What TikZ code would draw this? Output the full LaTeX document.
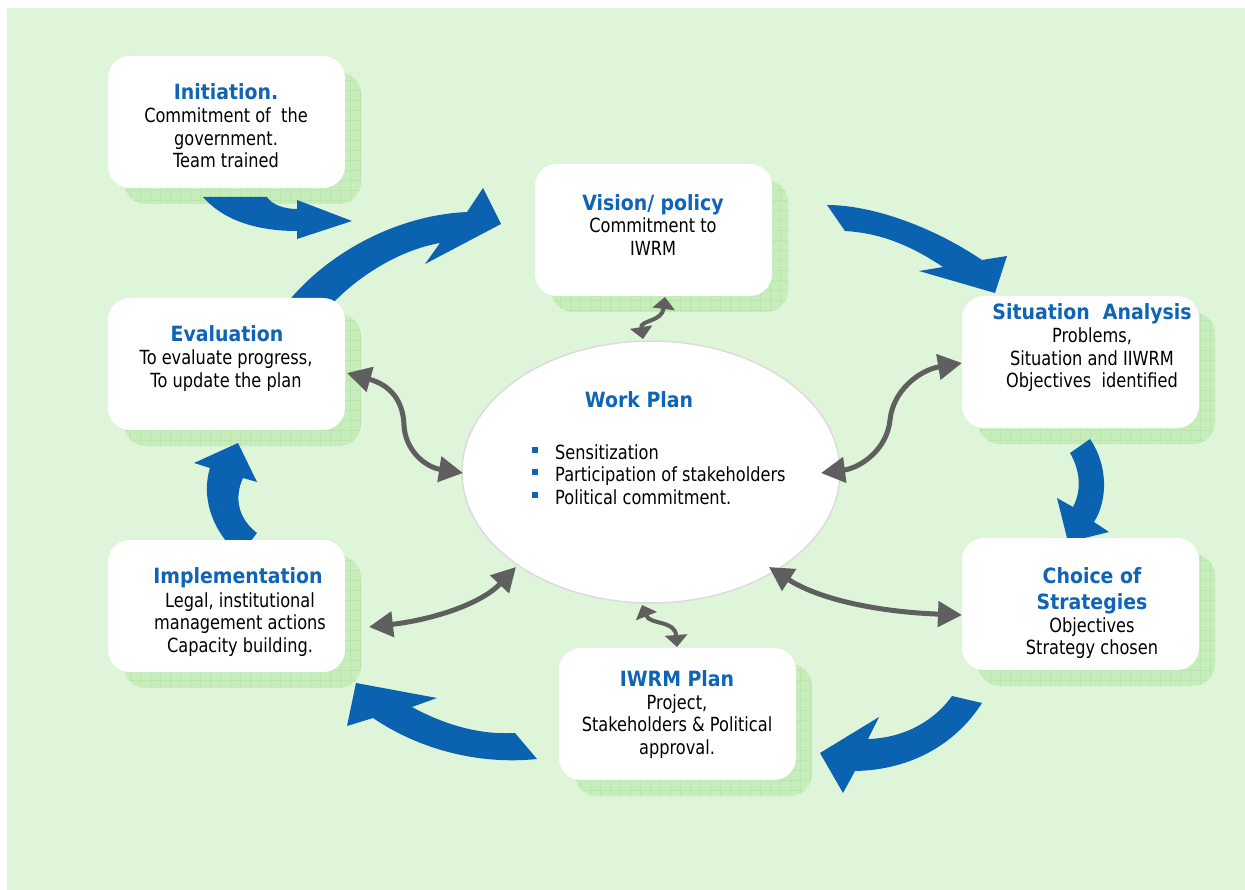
\documentclass[tikz,border=0pt]{standalone}
\usepackage{fontspec}
\setmainfont{DejaVu Sans}[FakeStretch=0.83]
\newfontfamily\ttl{DejaVu Sans}[FakeStretch=0.9]
\usetikzlibrary{shapes.geometric,arrows.meta}
\definecolor{bgfill}{HTML}{DFF5D9}
\definecolor{shadowfill}{HTML}{C6EDBB}
\definecolor{gridcol}{HTML}{BAE6AE}
\definecolor{arrblue}{HTML}{0B62B1}
\definecolor{titleblue}{HTML}{0F64B5}
\definecolor{arrgray}{HTML}{5F5F5F}
\definecolor{ellborder}{HTML}{DCDCDC}
\definecolor{txtblack}{HTML}{000000}
\tikzset{
  boxnode/.style={rectangle, rounded corners=22pt, fill=white, draw=none,
    minimum width=237pt, minimum height=132pt, inner sep=0pt},
  ttlnode/.style={font=\ttl\bfseries\fontsize{21}{26}\selectfont, text=titleblue,
    inner sep=0pt, anchor=base, align=center},
  bodynode/.style={font=\fontsize{19.5}{22.5}\selectfont, text=txtblack,
    inner sep=0pt, anchor=base, align=center},
  bluearrow/.style={fill=arrblue, draw=none},
  bigdbl/.style={draw=arrgray, line width=5pt,
    {Triangle[width=25pt,length=24pt]}-{Triangle[width=25pt,length=24pt]}},
  smalldbl/.style={draw=arrgray, line width=4pt,
    {Triangle[width=22pt,length=12pt]}-{Triangle[width=22pt,length=12pt]}},
  gridline/.style={draw=gridcol, line width=0.5pt},
  bulletsq/.style={fill=titleblue}
}
\begin{document}
\begin{tikzpicture}[x=1pt,y=-1pt]
\useasboundingbox (0,0) rectangle (1245,890);
\fill[bgfill] (7,8) rectangle (1245,890);

% shadows
\foreach \x/\y in {108/56,535/164,962/296,108/298,108/540,962/538,559/648}{
  \begin{scope}
    \clip[rounded corners=22pt] (\x+16,\y+16) rectangle (\x+253,\y+148);
    \fill[shadowfill] (\x,\y) rectangle (\x+260,\y+160);
    \draw[gridline] (\x,\y) grid[step=10pt] (\x+260,\y+160);
  \end{scope}
}

% blue cycle arrows
\fill[bluearrow] (203,197) .. controls (225,222) and (260,231) .. (297,231)
  -- (297,239) -- (352,221) -- (297,200) -- (297,209)
  .. controls (285,209) and (272,205) .. (267,197) -- cycle;
\fill[bluearrow] (287,303) .. controls (330,250) and (400,215) .. (467,212)
  -- (483,188) -- (501,224) -- (425,264) -- (440,243)
  .. controls (400,250) and (360,275) .. (333,303) -- cycle;
\fill[bluearrow] (827,205) .. controls (870,205) and (930,225) .. (982,260)
  -- (1007,256) -- (995,293) -- (919,271) -- (943,267)
  .. controls (910,245) and (880,233) .. (845,231) -- cycle;
\fill[bluearrow] (1090,439) .. controls (1108,465) and (1108,500) .. (1094,522)
  -- (1109,532) -- (1068,542) -- (1057,498) -- (1073,507)
  .. controls (1082,490) and (1080,470) .. (1070,453) -- cycle;
\fill[bluearrow] (982,703) .. controls (955,745) and (910,770) .. (855,771)
  -- (843,793) -- (820,753) -- (879,717) -- (868,739)
  .. controls (905,738) and (935,720) .. (952,696) -- cycle;
\fill[bluearrow] (537,759) .. controls (480,765) and (420,750) .. (373,718)
  -- (347,726) -- (356,683) -- (437,698) -- (412,707)
  .. controls (445,725) and (480,735) .. (515,733) -- cycle;
\fill[bluearrow] (240,555) .. controls (215,535) and (200,500) .. (210,468)
  -- (194,463) -- (238,443) -- (257,482) -- (243,478)
  .. controls (233,500) and (240,520) .. (257,533) -- cycle;

% boxes
\node[boxnode] (init) at (226.5,122) {};
\node[boxnode] (vision) at (653.5,230) {};
\node[boxnode] (situation) at (1080.5,362) {};
\node[boxnode] (evaluation) at (226.5,364) {};
\node[boxnode] (implementation) at (226.5,606) {};
\node[boxnode] (choice) at (1080.5,604) {};
\node[boxnode] (iwrm) at (677.5,714) {};

% central ellipse
\node[ellipse, fill=white, draw=ellborder, line width=1.5pt, inner sep=0pt,
  minimum width=378pt, minimum height=262pt] (workplan) at (651,472) {};

% gray double arrows (end points)
\coordinate (vA) at (665,297);
\coordinate (wA) at (643,339);
\coordinate (eB) at (347,373);
\coordinate (wB) at (463,473);
\coordinate (sC) at (962,363);
\coordinate (wC) at (821,473);
\coordinate (iD) at (369,627);
\coordinate (wD) at (516,567);
\coordinate (wE) at (642,605);
\coordinate (pE) at (677,647);
\coordinate (wF) at (769,567);
\coordinate (cF) at (962,615);

\draw[smalldbl] (wA) .. controls (640,320) and (662,322) .. (vA);
\draw[bigdbl] (eB) .. controls (390,385) and (403,400) .. (404,425)
  .. controls (405,450) and (425,467) .. (wB);
\draw[bigdbl] (sC) .. controls (920,370) and (893,390) .. (890,420)
  .. controls (887,450) and (860,468) .. (wC);
\draw[bigdbl] (iD) .. controls (430,620) and (480,605) .. (wD);
\draw[smalldbl] (wE) .. controls (650,625) and (675,620) .. (pE);
\draw[bigdbl] (wF) .. controls (820,600) and (880,612) .. (cF);

% texts (base anchor of a multi-line node = baseline of its last line)
\node[ttlnode] (t-init) at (226,100) {Initiation.};
\node[bodynode] (b-init) at (226,168) {Commitment of~ the\\government.\\Team trained};

\node[ttlnode] (t-vision) at (653,211) {Vision/ policy};
\node[bodynode] (b-vision) at (653,255.5) {Commitment to\\IWRM};

\node[ttlnode] (t-sit) at (1092,320) {Situation~ Analysis};
\node[bodynode] (b-sit) at (1092,388) {Problems,\\Situation and IIWRM\\Objectives~ identified};

\node[ttlnode] (t-eval) at (227,342) {Evaluation};
\node[bodynode] (b-eval) at (226,387.5) {To evaluate progress,\\To update the plan};

\node[ttlnode] (t-impl) at (238,583) {Implementation};
\node[bodynode] (b-impl) at (240,652) {Legal, institutional\\management actions\\Capacity building.};

\node[ttlnode] (t-choice) at (1092,609) {Choice of\\Strategies};
\node[bodynode] (b-choice) at (1092,654.5) {Objectives\\Strategy chosen};

\node[ttlnode] (t-iwrm) at (677,686) {IWRM Plan};
\node[bodynode] (b-iwrm) at (677,754) {Project,\\Stakeholders \& Political\\approval.};

\node[ttlnode] (t-wp) at (639,408) {Work Plan};
\node[bodynode, anchor=base west, align=left] (b-wp) at (555,504)
  {Sensitization\\Participation of stakeholders\\Political commitment.};
\fill[bulletsq] (532,446.5) rectangle (538,452.5);
\fill[bulletsq] (532,469) rectangle (538,475);
\fill[bulletsq] (532,491.5) rectangle (538,497.5);
\end{tikzpicture}
\end{document}
